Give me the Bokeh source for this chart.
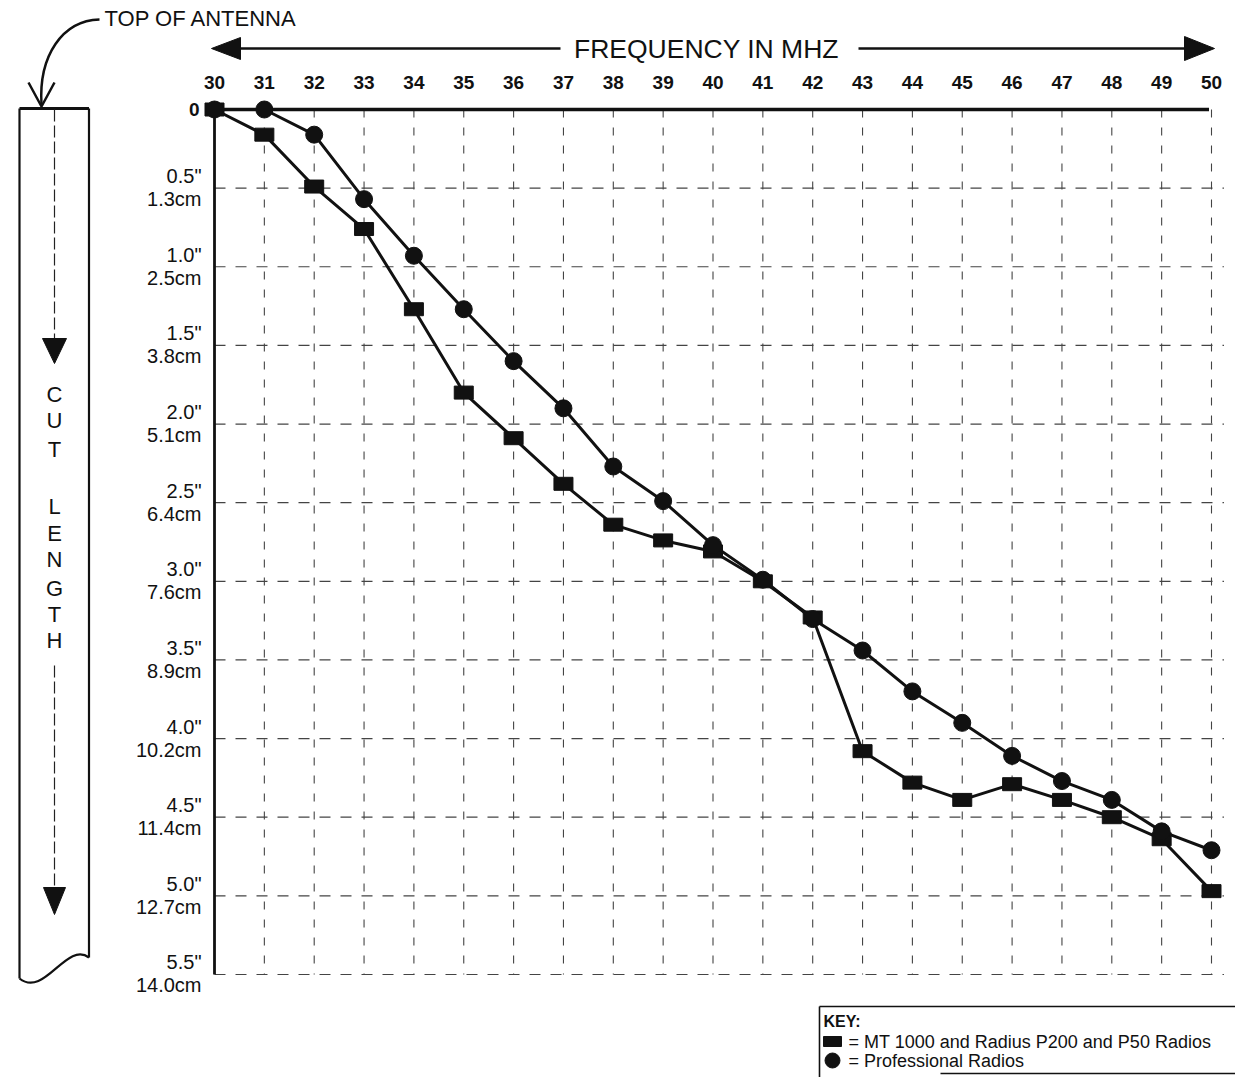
from bokeh.plotting import figure
from bokeh.models import Range1d
from bokeh.core.properties import value
from bokeh.embed import file_html
from bokeh.resources import INLINE

# ---------------- data ----------------
freq_mhz = list(range(30, 51))
mt1000_cut_in = [0.00, 0.16, 0.49, 0.76, 1.27, 1.80, 2.09, 2.38, 2.64, 2.74, 2.81,
                 3.00, 3.23, 4.08, 4.28, 4.39, 4.29, 4.39, 4.50, 4.64, 4.97]
professional_cut_in = [0.00, 0.00, 0.16, 0.57, 0.93, 1.27, 1.60, 1.90, 2.27, 2.49, 2.77,
                       2.99, 3.24, 3.44, 3.70, 3.90, 4.11, 4.27, 4.39, 4.59, 4.71]
cut_ticks_in = [0.5, 1.0, 1.5, 2.0, 2.5, 3.0, 3.5, 4.0, 4.5, 5.0, 5.5]
cut_labels_in = ['0.5"', '1.0"', '1.5"', '2.0"', '2.5"', '3.0"', '3.5"', '4.0"', '4.5"', '5.0"', '5.5"']
cut_labels_cm = ['1.3cm', '2.5cm', '3.8cm', '5.1cm', '6.4cm', '7.6cm', '8.9cm', '10.2cm',
                 '11.4cm', '12.7cm', '14.0cm']
freq_labels = [str(f) for f in freq_mhz]
key_labels = ["= MT 1000 and Radius P200 and P50 Radios", "= Professional Radios"]

# ---------------- layout ----------------
W, H = 1235, 1077
PX = 49.85          # screen px per MHz
PY = 157.27         # screen px per inch
X30_PX = 214        # screen px of 30 MHz
Y0_PX = 109         # screen px of 0 inch


def sx(px):
    return 30 + (px - X30_PX) / PX


def sy(py):
    return (py - Y0_PX) / PY


FONT = value("Liberation Sans")
INK = "#111111"

p = figure(width=W, height=H, x_range=Range1d(sx(0), sx(W)),
           y_range=Range1d(sy(H), sy(0)),
           x_axis_type=None, y_axis_type=None,
           output_backend="svg", toolbar_location=None, min_border=0)
p.grid.visible = False
p.outline_line_color = None
p.background_fill_color = "white"
p.border_fill_color = "white"

# ---------------- grid ----------------
x_max = 50.25
p.multi_line(xs=[[f, f] for f in freq_mhz[1:]], ys=[[0, 5.5] for _ in freq_mhz[1:]],
             line_color="#444444", line_width=1.1, line_dash="8 10")
p.multi_line(xs=[[30, x_max] for _ in cut_ticks_in], ys=[[t, t] for t in cut_ticks_in],
             line_color="#444444", line_width=1.2, line_dash="11 10")

# axes lines
p.segment(x0=[30], y0=[0], x1=[49.95], y1=[0], line_color=INK, line_width=3.5)
p.segment(x0=[30], y0=[0], x1=[30], y1=[5.5], line_color=INK, line_width=2.8)

# ---------------- series ----------------
p.line(freq_mhz, mt1000_cut_in, line_color=INK, line_width=3)
p.rect(freq_mhz, mt1000_cut_in, width=19, height=13, width_units="screen",
       height_units="screen", fill_color=INK, line_color=INK)
p.line(freq_mhz, professional_cut_in, line_color=INK, line_width=3)
p.scatter(freq_mhz, professional_cut_in, size=17, marker="circle",
          fill_color=INK, line_color=INK)

# ---------------- tick labels ----------------
p.text(x=freq_mhz, y=[sy(82)] * len(freq_mhz), text=freq_labels,
       text_font=FONT, text_font_size="19px", text_font_style="bold",
       text_align="center", text_baseline="middle", text_color=INK)
lab_x = [sx(201)] * len(cut_ticks_in)
p.text(x=lab_x, y=cut_ticks_in, text=cut_labels_in, y_offset=-12,
       text_font=FONT, text_font_size="20px", text_align="right",
       text_baseline="middle", text_color=INK)
p.text(x=lab_x, y=cut_ticks_in, text=cut_labels_cm, y_offset=11,
       text_font=FONT, text_font_size="20px", text_align="right",
       text_baseline="middle", text_color=INK)
p.text(x=[sx(199)], y=[0], text=["0"], text_font=FONT, text_font_size="19px",
       text_font_style="bold", text_align="right", text_baseline="middle", text_color=INK)

# ---------------- frequency arrow ----------------
ay = sy(48)
p.text(x=[sx(706)], y=[ay], text=["FREQUENCY IN MHZ"], text_font=FONT,
       text_font_size="26.5px", text_align="center", text_baseline="middle", text_color=INK)
p.segment(x0=[sx(236), sx(858)], y0=[ay, ay], x1=[sx(560), sx(1186)], y1=[ay, ay],
          line_color=INK, line_width=2.5)
p.patches(xs=[[sx(211), sx(240), sx(240)], [sx(1214), sx(1184), sx(1184)]],
          ys=[[ay, sy(37), sy(59)], [ay, sy(36), sy(60)]],
          fill_color=INK, line_color=INK)

# ---------------- antenna strip ----------------
L, R, C = 19, 88.5, 54
p.segment(x0=[sx(L), sx(L), sx(R)], y0=[sy(108), sy(108), sy(108)],
          x1=[sx(R), sx(L), sx(R)], y1=[sy(108), sy(978), sy(957)],
          line_color=INK, line_width=[2.8, 2.2, 2.2])
p.bezier(x0=[sx(R)], y0=[sy(957)], x1=[sx(L)], y1=[sy(978)],
         cx0=[sx(66)], cy0=[sy(940)], cx1=[sx(44)], cy1=[sy(998)],
         line_color=INK, line_width=2.2)
p.segment(x0=[sx(C), sx(C)], y0=[sy(109), sy(665)], x1=[sx(C), sx(C)],
          y1=[sy(340), sy(889)], line_color="#222222", line_width=1.2, line_dash="12 4")
p.patches(xs=[[sx(42), sx(66), sx(C)], [sx(43), sx(65), sx(C)]],
          ys=[[sy(338), sy(338), sy(363)], [sy(887), sy(887), sy(914)]],
          fill_color=INK, line_color=INK)
letters = list("CUTLENGTH")
letter_py = [394, 420, 449, 506, 533, 559, 588, 614, 640]
p.text(x=[sx(C)] * len(letters), y=[sy(v) for v in letter_py], text=letters,
       text_font=FONT, text_font_size="22px", text_align="center",
       text_baseline="middle", text_color=INK)

# ---------------- top of antenna ----------------
p.text(x=[sx(104)], y=[sy(18)], text=["TOP OF ANTENNA"], text_font=FONT,
       text_font_size="22px", text_align="left", text_baseline="middle", text_color=INK)
p.bezier(x0=[sx(99)], y0=[sy(19)], x1=[sx(41)], y1=[sy(104)],
         cx0=[sx(62)], cy0=[sy(20)], cx1=[sx(38)], cy1=[sy(55)],
         line_color=INK, line_width=2.5)
p.multi_line(xs=[[sx(28), sx(41), sx(54)]], ys=[[sy(82), sy(106), sy(82)]],
             line_color=INK, line_width=2.5)

# ---------------- key ----------------
p.segment(x0=[sx(819), sx(819), sx(940)], y0=[sy(1006), sy(1006), sy(1073)],
          x1=[sx(1235), sx(819), sx(1235)], y1=[sy(1006), sy(1077), sy(1073)],
          line_color=INK, line_width=1.6)
p.text(x=[sx(823)], y=[sy(1021)], text=["KEY:"], text_font=FONT, text_font_size="16px",
       text_font_style="bold", text_align="left", text_baseline="middle", text_color=INK)
p.rect(x=[sx(832)], y=[sy(1041)], width=18, height=10, width_units="screen",
       height_units="screen", fill_color=INK, line_color=INK)
p.scatter(x=[sx(832)], y=[sy(1060)], size=15, marker="circle", fill_color=INK, line_color=INK)
p.text(x=[sx(848), sx(848)], y=[sy(1041), sy(1060)], text=key_labels, text_font=FONT,
       text_font_size="18px", text_align="left", text_baseline="middle", text_color=INK)

open("out.html", "w").write(file_html(p, INLINE))
